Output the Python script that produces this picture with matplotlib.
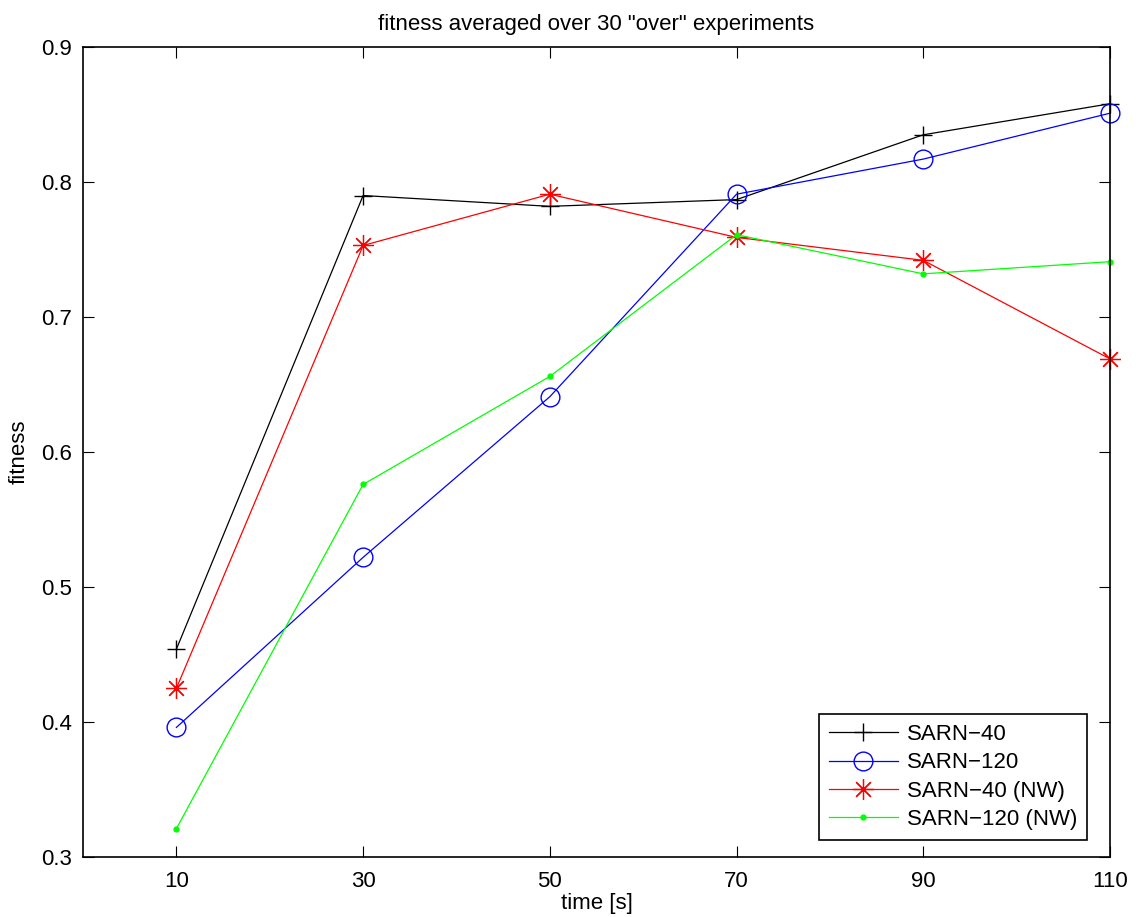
import numpy as np
import matplotlib
matplotlib.use("Agg")
import matplotlib.pyplot as plt

plt.rcParams['font.family'] = ['Liberation Sans', 'DejaVu Sans']

times = [10, 30, 50, 70, 90, 110]
sarn40 = [0.454, 0.790, 0.782, 0.787, 0.835, 0.858]
sarn120 = [0.396, 0.522, 0.641, 0.791, 0.817, 0.851]
sarn40_nw = [0.425, 0.753, 0.791, 0.759, 0.742, 0.669]
sarn120_nw = [0.321, 0.576, 0.656, 0.761, 0.732, 0.741]

fig = plt.figure(figsize=(11.36, 9.17), dpi=100)
ax = fig.add_axes([0.0731, 0.0654, 0.9040, 0.8833])

style = dict(lw=0.9, clip_on=False)
ax.plot(times, sarn40, color='k', marker='+', ms=13, mew=1.0, label='SARN\u221240', **style)
ax.plot(times, sarn120, color='b', marker='o', ms=13.5, mfc='none', mew=1.0, label='SARN\u2212120', **style)
ax.plot(times, sarn40_nw, color='r', marker=(8, 2, 0), ms=15, mew=0.9, label='SARN\u221240 (NW)', **style)
ax.plot(times, sarn120_nw, color='#00ff00', marker='.', ms=7, label='SARN\u2212120 (NW)', **style)

ax.set_xlim(0, 110)
ax.set_ylim(0.3, 0.9)
ax.set_xticks(times)
ax.set_yticks([0.3, 0.4, 0.5, 0.6, 0.7, 0.8, 0.9])
ax.tick_params(direction='in', top=True, right=True, length=8, labelsize=16)
ax.tick_params(axis='x', pad=10)
ax.tick_params(axis='y', pad=8)
for s in ax.spines.values():
    s.set_linewidth(1.2)

ax.set_xlabel('time [s]', fontsize=16, labelpad=1)
ax.set_ylabel('fitness', fontsize=16, labelpad=8)
ax.set_title('fitness averaged over 30 "over" experiments', fontsize=16, pad=12)

leg = ax.legend(loc='lower right', bbox_to_anchor=(1087 / 1136, 77 / 917),
                bbox_transform=fig.transFigure, borderaxespad=0,
                fontsize=16, fancybox=False, framealpha=1, edgecolor='k',
                handlelength=3.1, handletextpad=0.4, labelspacing=0.33,
                borderpad=0.45)
leg.get_frame().set_linewidth(1.2)

plt.savefig('out.png', dpi=100)
